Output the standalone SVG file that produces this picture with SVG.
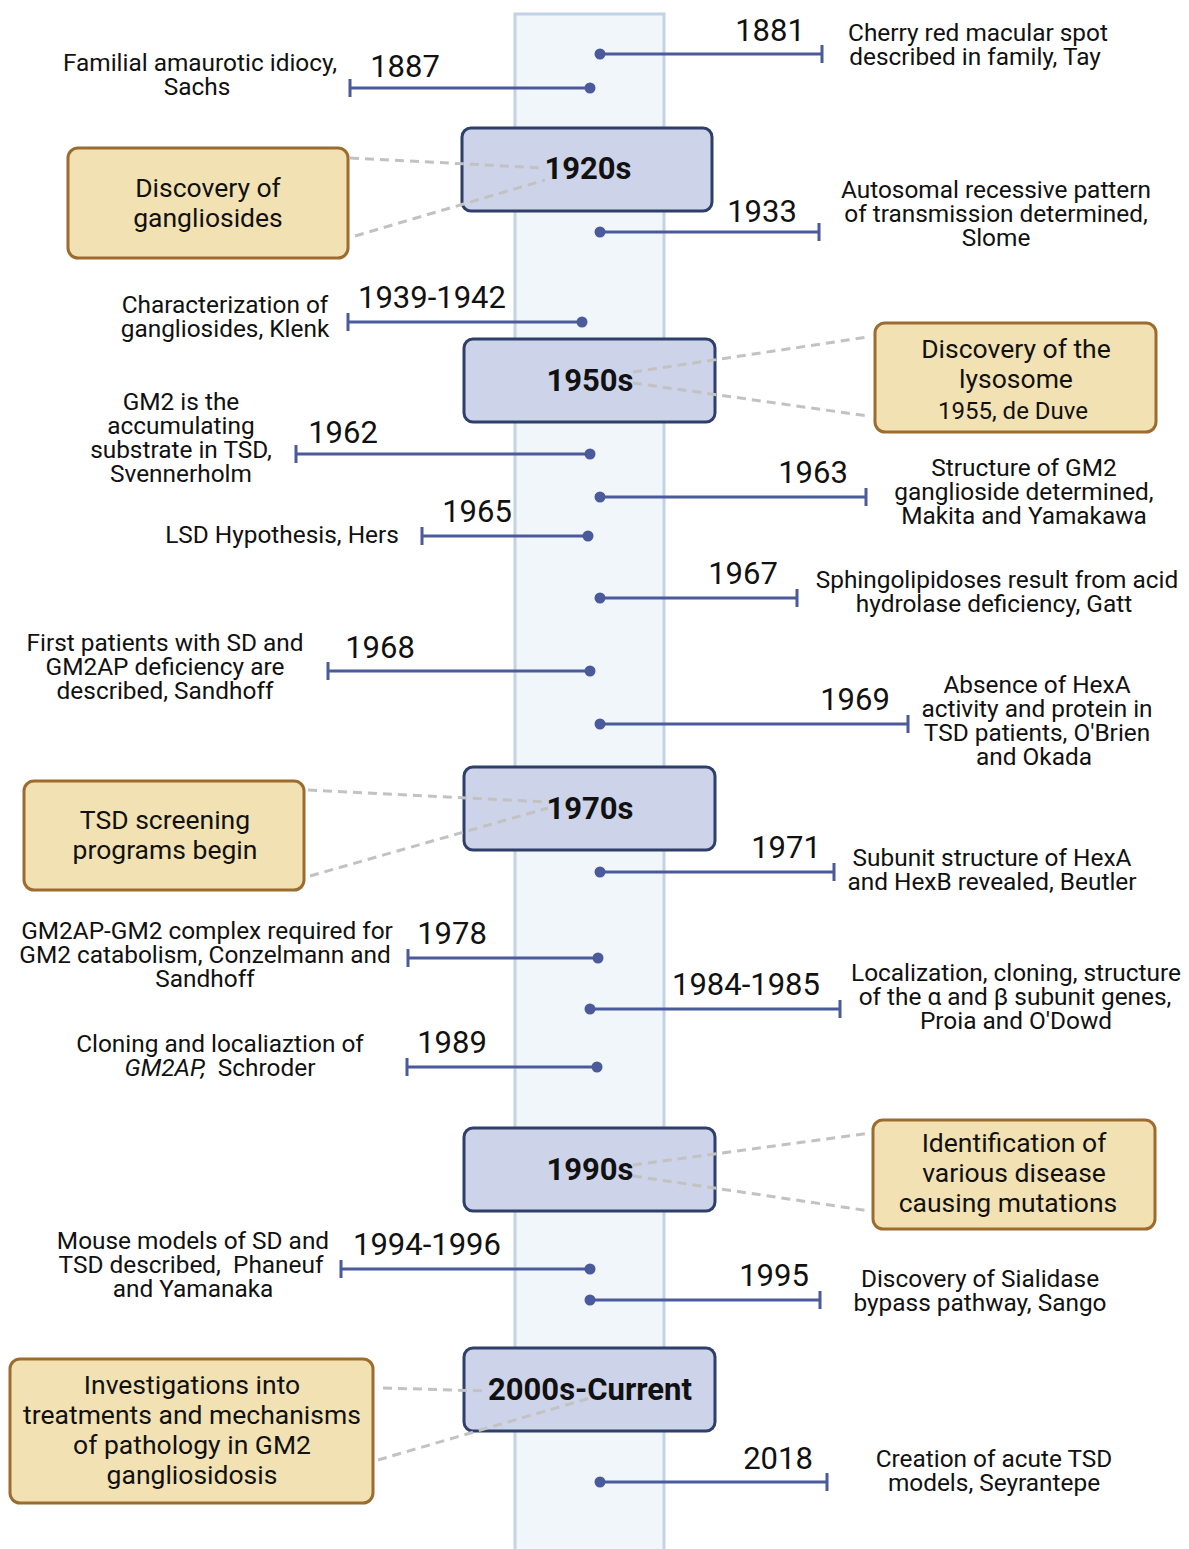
<svg xmlns="http://www.w3.org/2000/svg" width="1189" height="1549" viewBox="0 0 1189 1549">
<defs>
<style>
.col{fill:#f1f6fb;stroke:#c3d2e6;stroke-width:3}
.dec rect{fill:#cdd3e8;stroke:#2e3f6a;stroke-width:3}
.dec text{font-family:Roboto,"Liberation Sans",sans-serif;font-weight:bold;font-size:31px;fill:#111;text-anchor:middle}
.tan rect{fill:#f2e2b3;stroke:#9c6b2e;stroke-width:3}
.tan text{font-family:Roboto,"Liberation Sans",sans-serif;font-size:26.5px;fill:#111;text-anchor:middle}
.ev text{font-family:Roboto,"Liberation Sans",sans-serif;font-size:24.4px;fill:#111;text-anchor:middle;white-space:pre}
.ev text.yr{font-size:31px}
.ln{stroke:#4b5a9b;stroke-width:3;fill:none}
.dot{fill:#4b5a9b}
.dash{stroke:#c2c2c2;stroke-width:3;stroke-dasharray:9 6;fill:none}
</style>
</defs>
<rect fill="#ffffff" x="0" y="0" width="1189" height="1549"/>
<rect class="col" x="515" y="14" width="149" height="1545"/>

<g id="d1920" class="dec"><rect x="462" y="128" width="250" height="83" rx="9"/><text x="588" y="179">1920s</text></g>
<g id="d1950" class="dec"><rect x="464" y="339" width="251" height="83" rx="9"/><text x="590" y="391">1950s</text></g>
<g id="d1970" class="dec"><rect x="464" y="767" width="251" height="83" rx="9"/><text x="590" y="819">1970s</text></g>
<g id="d1990" class="dec"><rect x="464" y="1128" width="251" height="83" rx="9"/><text x="590" y="1180">1990s</text></g>
<g id="d2000" class="dec"><rect x="464" y="1348" width="251" height="83" rx="9"/><text x="590" y="1400">2000s-Current</text></g>

<g id="connectors">
<line class="dash" x1="350" y1="158" x2="545" y2="168"/>
<line class="dash" x1="355" y1="236" x2="545" y2="180"/>
<line class="dash" x1="633" y1="372" x2="868" y2="337"/>
<line class="dash" x1="633" y1="383" x2="868" y2="416"/>
<line class="dash" x1="308" y1="790" x2="548" y2="802"/>
<line class="dash" x1="310" y1="876" x2="548" y2="808"/>
<line class="dash" x1="633" y1="1165" x2="870" y2="1133"/>
<line class="dash" x1="633" y1="1176" x2="870" y2="1211"/>
<line class="dash" x1="383" y1="1388" x2="488" y2="1391"/>
<line class="dash" x1="378" y1="1460" x2="590" y2="1398"/>

<path class="ln" d="M600 54H822M822 45V63"/><circle class="dot" cx="600" cy="54" r="5.5"/>
<path class="ln" d="M590 88H350M350 79V97"/><circle class="dot" cx="590" cy="88" r="5.5"/>
<path class="ln" d="M600 232H819M819 223V241"/><circle class="dot" cx="600" cy="232" r="5.5"/>
<path class="ln" d="M582 322H348M348 313V331"/><circle class="dot" cx="582" cy="322" r="5.5"/>
<path class="ln" d="M590 454H296M296 445V463"/><circle class="dot" cx="590" cy="454" r="5.5"/>
<path class="ln" d="M600 497H866M866 488V506"/><circle class="dot" cx="600" cy="497" r="5.5"/>
<path class="ln" d="M588 536H422M422 527V545"/><circle class="dot" cx="588" cy="536" r="5.5"/>
<path class="ln" d="M600 598H797M797 589V607"/><circle class="dot" cx="600" cy="598" r="5.5"/>
<path class="ln" d="M590 671H328M328 662V680"/><circle class="dot" cx="590" cy="671" r="5.5"/>
<path class="ln" d="M600 724H908M908 715V733"/><circle class="dot" cx="600" cy="724" r="5.5"/>
<path class="ln" d="M600 872H834M834 863V881"/><circle class="dot" cx="600" cy="872" r="5.5"/>
<path class="ln" d="M598 958H408M408 949V967"/><circle class="dot" cx="598" cy="958" r="5.5"/>
<path class="ln" d="M590 1009H840M840 1000V1018"/><circle class="dot" cx="590" cy="1009" r="5.5"/>
<path class="ln" d="M597 1067H407M407 1058V1076"/><circle class="dot" cx="597" cy="1067" r="5.5"/>
<path class="ln" d="M590 1269H341M341 1260V1278"/><circle class="dot" cx="590" cy="1269" r="5.5"/>
<path class="ln" d="M590 1300H820M820 1291V1309"/><circle class="dot" cx="590" cy="1300" r="5.5"/>
<path class="ln" d="M600 1482H827M827 1473V1491"/><circle class="dot" cx="600" cy="1482" r="5.5"/>
</g>

<g id="t1" class="tan"><rect x="68" y="148" width="280" height="110" rx="10"/><text x="208" y="197">Discovery of</text><text x="208" y="227">gangliosides</text></g>
<g id="t2" class="tan"><rect x="875" y="323" width="281" height="109" rx="10"/><text x="1016" y="358">Discovery of the</text><text x="1016" y="388">lysosome</text><text x="1013" y="419" style="font-size:24px">1955, de Duve</text></g>
<g id="t3" class="tan"><rect x="24" y="781" width="280" height="109" rx="10"/><text x="165" y="829">TSD screening</text><text x="165" y="859">programs begin</text></g>
<g id="t4" class="tan"><rect x="873" y="1120" width="282" height="109" rx="10"/><text x="1014" y="1152">Identification of</text><text x="1014" y="1182">various disease</text><text x="1008" y="1212">causing mutations</text></g>
<g id="t5" class="tan"><rect x="10" y="1359" width="363" height="144" rx="10"/><text x="192" y="1394">Investigations into</text><text x="192" y="1424">treatments and mechanisms</text><text x="192" y="1454">of pathology in GM2</text><text x="192" y="1484">gangliosidosis</text></g>

<g id="e1881" class="ev"><text class="yr" x="770" y="41">1881</text><text x="978" y="41">Cherry red macular spot</text><text x="975" y="65">described in family, Tay</text></g>
<g id="e1887" class="ev"><text class="yr" x="405" y="77">1887</text><text x="200" y="71">Familial amaurotic idiocy,</text><text x="197" y="95">Sachs</text></g>
<g id="e1933" class="ev"><text class="yr" x="762" y="222">1933</text><text x="996" y="198">Autosomal recessive pattern</text><text x="996" y="222">of transmission determined,</text><text x="996" y="246">Slome</text></g>
<g id="e1939" class="ev"><text class="yr" x="432" y="308">1939-1942</text><text x="225" y="313">Characterization of</text><text x="225" y="337">gangliosides, Klenk</text></g>
<g id="e1962" class="ev"><text class="yr" x="343" y="443">1962</text><text x="181" y="410">GM2 is the</text><text x="181" y="434">accumulating</text><text x="181" y="458">substrate in TSD,</text><text x="181" y="482">Svennerholm</text></g>
<g id="e1963" class="ev"><text class="yr" x="813" y="483">1963</text><text x="1024" y="476">Structure of GM2</text><text x="1024" y="500">ganglioside determined,</text><text x="1024" y="524">Makita and Yamakawa</text></g>
<g id="e1965" class="ev"><text class="yr" x="477" y="522">1965</text><text x="282" y="543">LSD Hypothesis, Hers</text></g>
<g id="e1967" class="ev"><text class="yr" x="743" y="584">1967</text><text x="997" y="588">Sphingolipidoses result from acid</text><text x="994" y="612">hydrolase deficiency, Gatt</text></g>
<g id="e1968" class="ev"><text class="yr" x="380" y="658">1968</text><text x="165" y="651">First patients with SD and</text><text x="165" y="675">GM2AP deficiency are</text><text x="165" y="699">described, Sandhoff</text></g>
<g id="e1969" class="ev"><text class="yr" x="855" y="710">1969</text><text x="1037" y="693">Absence of HexA</text><text x="1037" y="717">activity and protein in</text><text x="1037" y="741">TSD patients, O'Brien</text><text x="1034" y="765">and Okada</text></g>
<g id="e1971" class="ev"><text class="yr" x="786" y="858">1971</text><text x="992" y="866">Subunit structure of HexA</text><text x="992" y="890">and HexB revealed, Beutler</text></g>
<g id="e1978" class="ev"><text class="yr" x="452" y="944">1978</text><text x="207" y="939">GM2AP-GM2 complex required for</text><text x="205" y="963">GM2 catabolism, Conzelmann and</text><text x="205" y="987">Sandhoff</text></g>
<g id="e1984" class="ev"><text class="yr" x="746" y="995">1984-1985</text><text x="1016" y="981">Localization, cloning, structure</text><text x="1015" y="1005">of the α and β subunit genes,</text><text x="1016" y="1029">Proia and O'Dowd</text></g>
<g id="e1989" class="ev"><text class="yr" x="452" y="1053">1989</text><text x="220" y="1052">Cloning and localiaztion of</text><text x="220" y="1076"><tspan font-style="italic">GM2AP,</tspan>  Schroder</text></g>
<g id="e1994" class="ev"><text class="yr" x="427" y="1255">1994-1996</text><text x="193" y="1249">Mouse models of SD and</text><text x="191" y="1273">TSD described,  Phaneuf</text><text x="193" y="1297">and Yamanaka</text></g>
<g id="e1995" class="ev"><text class="yr" x="774" y="1286">1995</text><text x="980" y="1287">Discovery of Sialidase</text><text x="980" y="1311">bypass pathway, Sango</text></g>
<g id="e2018" class="ev"><text class="yr" x="778" y="1469">2018</text><text x="994" y="1467">Creation of acute TSD</text><text x="994" y="1491">models, Seyrantepe</text></g>
</svg>
